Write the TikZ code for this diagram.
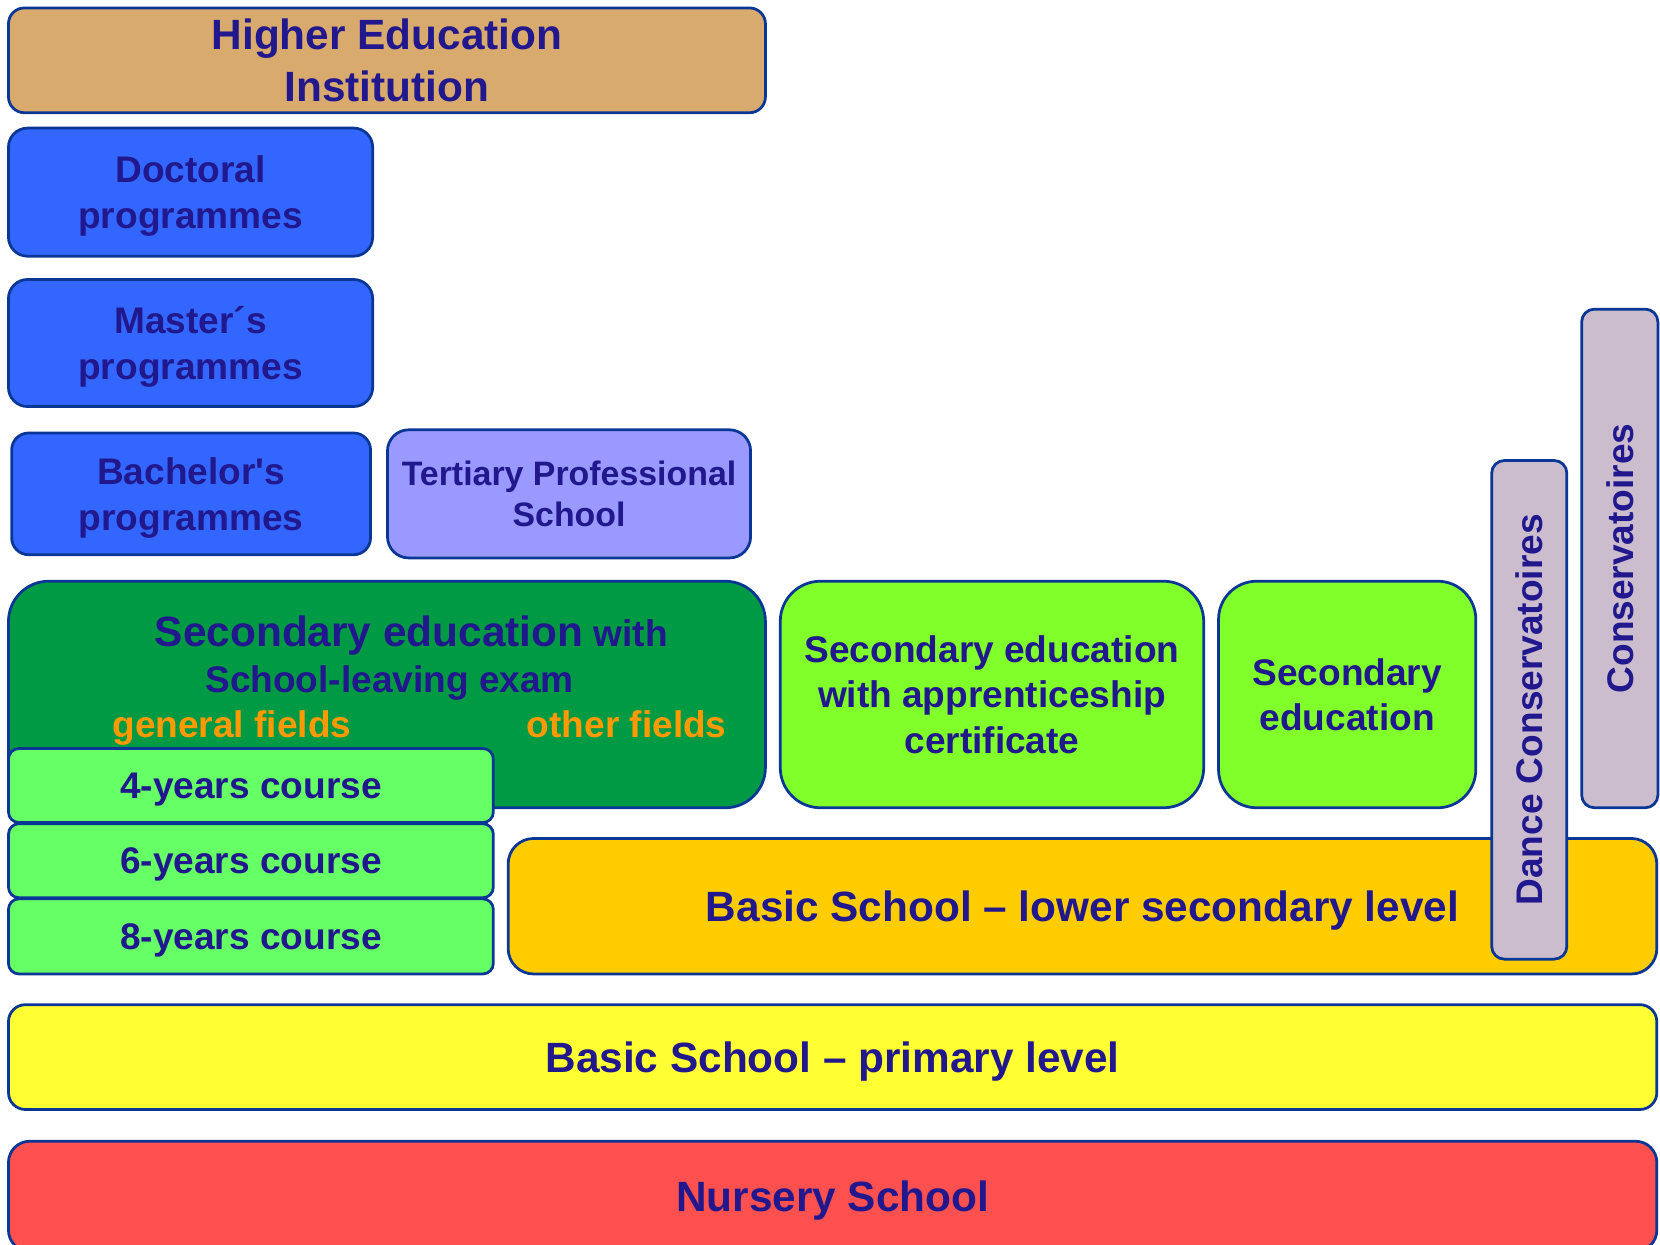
\documentclass[tikz,border=0pt]{standalone}
\usepackage{fontspec}
\setmainfont{Liberation Sans}
\definecolor{txt}{RGB}{32,24,140}
\definecolor{bord}{RGB}{10,55,150}
\definecolor{tan}{RGB}{217,170,110}
\definecolor{blueA}{RGB}{51,102,255}
\definecolor{lilac}{RGB}{153,153,255}
\definecolor{dgreen}{RGB}{0,154,68}
\definecolor{lgreen}{RGB}{102,255,102}
\definecolor{bgreen}{RGB}{128,255,42}
\definecolor{gold}{RGB}{255,204,0}
\definecolor{yel}{RGB}{255,255,51}
\definecolor{redA}{RGB}{255,80,80}
\definecolor{mauve}{RGB}{203,188,206}
\definecolor{orng}{RGB}{255,153,0}
\newcommand\fBig{\fontsize{20}{24.5}\selectfont\bfseries}
\newcommand\fMid{\fontsize{17.5}{21.5}\selectfont\bfseries}
\newcommand\fSm{\fontsize{16}{19.5}\selectfont\bfseries}
\begin{document}
\begin{tikzpicture}[x=0.5pt,y=-0.5pt,
  box/.style={draw=bord, line width=1.3pt, text=txt, align=center, inner sep=0pt, outer sep=0pt, text depth=0pt},
  lbl/.style={text=txt, inner sep=0pt, outer sep=0pt, text depth=0pt}]
\useasboundingbox (0,0) rectangle (1568,1176);
\clip (0,0) rectangle (1568,1176);
% Higher education
\node[box, fill=tan, minimum width=357.5pt, minimum height=49.5pt, rounded corners=7.5pt, font=\fBig] (hei) at (365.5,57) {Higher Education\\Institution};
\node[box, fill=blueA, minimum width=172pt, minimum height=60.5pt, rounded corners=9pt, font=\fMid] (doc) at (180,181.5) {Doctoral\\programmes};
\node[box, fill=blueA, minimum width=172pt, minimum height=60pt, rounded corners=9pt, font=\fMid] (mas) at (180,324) {Master´s\\programmes};
\node[box, fill=blueA, minimum width=169.5pt, minimum height=57.5pt, rounded corners=8pt, font=\fMid] (bac) at (180.5,466.5) {Bachelor\textquotesingle s\\programmes};
\node[box, fill=lilac, minimum width=171.5pt, minimum height=60.5pt, rounded corners=10pt, font=\fSm] (ter) at (537.5,466.5) {Tertiary Professional\\School};
% secondary
\node[box, fill=dgreen, minimum width=357.5pt, minimum height=107pt, rounded corners=19pt] (sec) at (365.5,656) {};
\node[lbl] (sect1) at (388.5,596) {{\fBig Secondary education}{\fMid\ with}};
\node[lbl, font=\fMid] (sect2) at (368,641) {School-leaving exam};
\node[lbl, font=\fMid, text=orng] (gen) at (219,684) {general fields};
\node[lbl, font=\fMid, text=orng] (oth) at (592,684) {other fields};
\node[box, fill=bgreen, minimum width=200pt, minimum height=107pt, rounded corners=19pt, font=\fMid] (app) at (937,656) {Secondary education\\with apprenticeship\\certificate};
\node[box, fill=bgreen, minimum width=121.5pt, minimum height=107pt, rounded corners=18pt, font=\fMid] (secr) at (1272.5,656) {Secondary\\education};
% courses
\node[box, fill=lgreen, minimum width=229pt, minimum height=35pt, rounded corners=5pt, font=\fMid] (c4) at (237,742) {4-years course};
\node[box, fill=lgreen, minimum width=229pt, minimum height=35pt, rounded corners=5pt, font=\fMid] (c6) at (237,813) {6-years course};
\node[box, fill=lgreen, minimum width=229pt, minimum height=35.5pt, rounded corners=5pt, font=\fMid] (c8) at (237,884.5) {8-years course};
% basic school
\node[box, fill=gold, minimum width=542.5pt, minimum height=64pt, rounded corners=12pt, font=\fBig] (bls) at (1022.5,856) {Basic School – lower secondary level};
\node[box, fill=yel, minimum width=778.5pt, minimum height=49.5pt, rounded corners=8pt, font=\fBig] (bps) at (786.5,998.5) {Basic School – primary level};
\node[box, fill=redA, minimum width=778.5pt, minimum height=52pt, rounded corners=10pt, font=\fBig] (nur) at (786.5,1130) {Nursery School};
% conservatoires
\node[box, fill=mauve, rotate=90, minimum width=235.5pt, minimum height=35.5pt, rounded corners=6pt, font=\fMid] (dance) at (1444.5,670.5) {Dance Conservatoires};
\node[box, fill=mauve, rotate=90, minimum width=235.5pt, minimum height=36pt, rounded corners=6pt, font=\fMid] (cons) at (1530,527.5) {Conservatoires};
\end{tikzpicture}
\end{document}
